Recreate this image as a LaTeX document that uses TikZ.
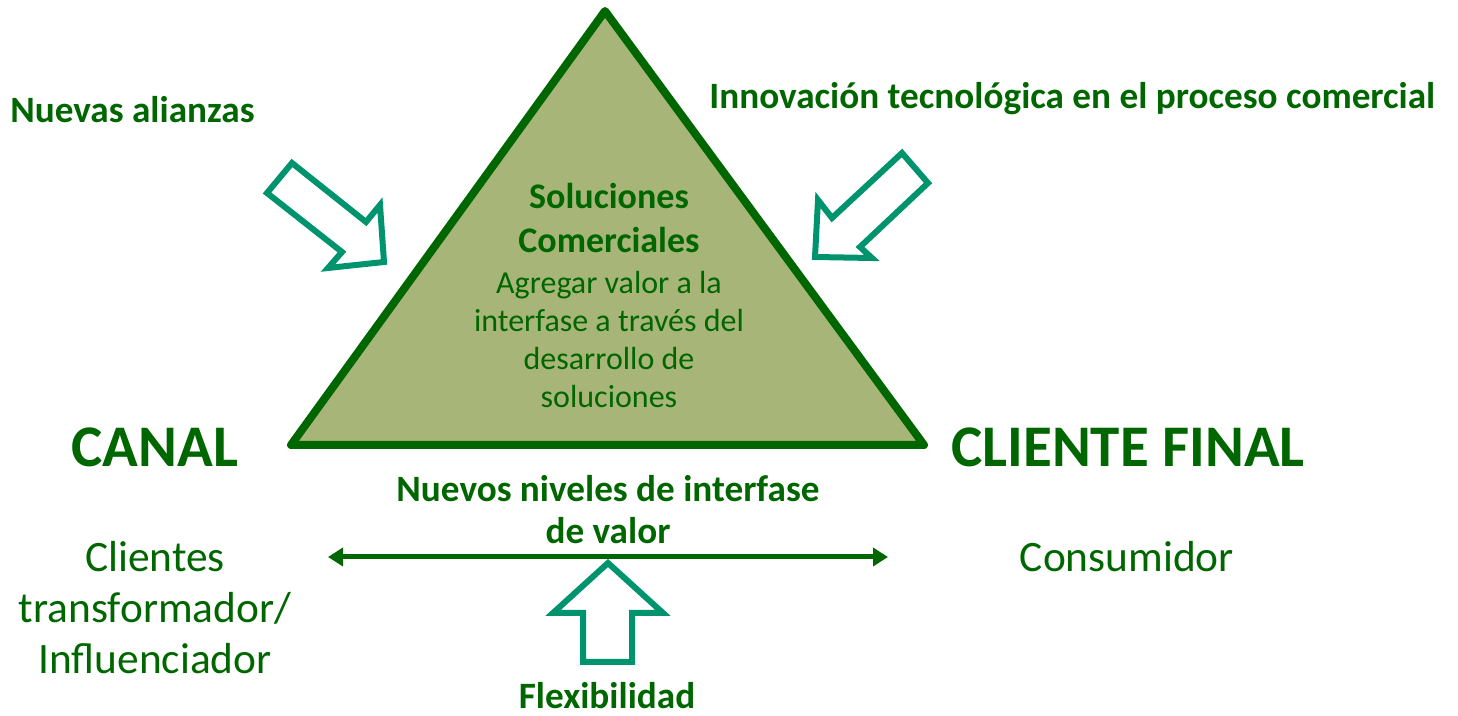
\documentclass[tikz,border=0pt]{standalone}
\usepackage{fontspec}
\setmainfont{Carlito}
\usetikzlibrary{arrows.meta}
\definecolor{dgreen}{RGB}{0,102,0}
\definecolor{tealg}{RGB}{0,148,110}
\definecolor{olivef}{RGB}{168,181,120}
\tikzset{
  lbl/.style={text=dgreen, inner sep=0pt, align=center},
  boldlbl/.style={lbl, font=\fontsize{18.6}{21}\selectfont\bfseries},
  biglbl/.style={lbl, font=\fontsize{29.5}{34}\selectfont\bfseries},
  sidelbl/.style={lbl, font=\fontsize{21.7}{25.5}\selectfont},
  innerlbl/.style={lbl, font=\fontsize{16}{19}\selectfont},
  hollowarrow/.style={draw=tealg, line width=3pt, fill=white, line join=miter},
}
\begin{document}
\begin{tikzpicture}[x=0.5pt,y=-0.5pt]
\useasboundingbox (0,0) rectangle (1458,716);
% triangle
\coordinate (apex) at (605,11);
\coordinate (bl) at (291,445);
\coordinate (br) at (924,445);
\draw[draw=dgreen, fill=olivef, line width=4pt, line join=round] (apex) -- (bl) -- (br) -- cycle;
% triangle texts
\node[boldlbl, font=\fontsize{18}{22}\selectfont\bfseries] (sol) at (609,218) {Soluciones\\Comerciales};
\node[innerlbl] (agr) at (609,340) {Agregar valor a la\\interfase a través del\\desarrollo de\\soluciones};
% top labels
\node[boldlbl, anchor=west] (alianzas) at (10,110) {Nuevas alianzas};
\node[boldlbl, anchor=west] (innov) at (709,99) {Innovación tecnológica en el proceso comercial};
% hollow arrows
\draw[hollowarrow] (292,163) -- (366,222) -- (380,205) -- (384,262) -- (328,268) -- (342,252) -- (267,193) -- cycle;
\draw[hollowarrow] (902,153) -- (928,183) -- (860,247) -- (872,258) -- (815,257) -- (818,200) -- (832,218) -- cycle;
\draw[hollowarrow] (608,563) -- (663,613) -- (632,613) -- (632,662) -- (583,662) -- (583,613) -- (553,613) -- cycle;
% big labels
\node[biglbl] (canal) at (155,447) {CANAL};
\node[biglbl] (cliente) at (1128,447) {CLIENTE FINAL};
% middle label
\node[boldlbl] (niveles) at (608,510) {Nuevos niveles de interfase\\de valor};
% double arrow
\coordinate (da) at (328,557);
\coordinate (db) at (888,557);
\draw[draw=dgreen, line width=2.5pt, {Triangle[length=7.5pt,width=9pt]}-{Triangle[length=7.5pt,width=9pt]}] (da) -- (db);
% side labels
\node[sidelbl] (clientes) at (155,608) {Clientes\\transformador/\\Influenciador};
\node[sidelbl] (consum) at (1127,557) {Consumidor};
\node[boldlbl, anchor=base] (flex) at (607,709) {Flexibilidad};
\end{tikzpicture}
\end{document}
